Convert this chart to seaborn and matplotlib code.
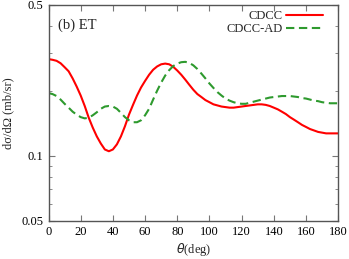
import numpy as np
import pandas as pd
import seaborn as sns
import matplotlib.pyplot as plt
import matplotlib.ticker as mticker

# Angles (deg), every 2.5 deg from 0 to 180
theta = list(np.arange(0, 180.1, 2.5))

# Cross sections (mb/sr)
cdcc = [0.280, 0.278, 0.275, 0.268, 0.257, 0.246, 0.228, 0.209, 0.190, 0.170,
        0.150, 0.135, 0.123, 0.114, 0.107, 0.105, 0.107, 0.113, 0.123, 0.137,
        0.155, 0.172, 0.190, 0.207, 0.222, 0.237, 0.250, 0.259, 0.265, 0.267,
        0.265, 0.258, 0.248, 0.237, 0.225, 0.213, 0.202, 0.193, 0.187, 0.181,
        0.177, 0.173, 0.171, 0.169, 0.168, 0.167, 0.167, 0.168, 0.169, 0.170,
        0.171, 0.172, 0.173, 0.173, 0.172, 0.170, 0.167, 0.164, 0.160, 0.156,
        0.151, 0.147, 0.143, 0.139, 0.136, 0.133, 0.131, 0.129, 0.128, 0.127,
        0.127, 0.127, 0.127]
cdcc_ad = [0.195, 0.193, 0.189, 0.182, 0.174, 0.167, 0.160, 0.155, 0.151, 0.149,
           0.150, 0.154, 0.159, 0.165, 0.169, 0.170, 0.169, 0.165, 0.158, 0.151,
           0.146, 0.143, 0.143, 0.146, 0.154, 0.165, 0.182, 0.200, 0.218, 0.235,
           0.249, 0.260, 0.267, 0.271, 0.272, 0.269, 0.262, 0.252, 0.240, 0.228,
           0.216, 0.206, 0.197, 0.190, 0.184, 0.180, 0.177, 0.175, 0.174, 0.174,
           0.176, 0.178, 0.180, 0.182, 0.184, 0.186, 0.187, 0.188, 0.189, 0.189,
           0.189, 0.188, 0.187, 0.185, 0.184, 0.182, 0.180, 0.179, 0.177, 0.176,
           0.175, 0.175, 0.175]
labels = ['CDCC', 'CDCC-AD']

df = pd.DataFrame({'theta': theta * 2,
                   'xs': cdcc + cdcc_ad,
                   'model': [labels[0]] * len(theta) + [labels[1]] * len(theta)})

sns.set_style('ticks')
plt.rcParams['font.family'] = ['Liberation Serif', 'DejaVu Serif']
plt.rcParams['mathtext.fontset'] = 'dejavusans'

fig = plt.figure(figsize=(3.49, 2.59), dpi=100)
ax = fig.add_axes([0.139, 0.147, 0.830, 0.835])

sns.lineplot(data=df, x='theta', y='xs', hue='model', style='model',
             palette={labels[0]: '#ff0000', labels[1]: '#2e9a2e'},
             dashes={labels[0]: '', labels[1]: (4, 2.2)},
             linewidth=1.5, ax=ax)

ax.set_yscale('log')
ax.set_xlim(0, 180)
ax.set_ylim(0.05, 0.5)
ax.set_xticks(range(0, 181, 20))
ax.yaxis.set_major_locator(mticker.FixedLocator([0.05, 0.1, 0.5]))
ax.yaxis.set_major_formatter(mticker.FixedFormatter(['0.05', '0.1', '0.5']))
ax.yaxis.set_minor_locator(mticker.FixedLocator([0.06, 0.07, 0.08, 0.09, 0.2, 0.3, 0.4]))
ax.yaxis.set_minor_formatter(mticker.NullFormatter())

for s in ax.spines.values():
    s.set_visible(True)
    s.set_color('#555555')
    s.set_linewidth(1.0)
ax.tick_params(which='both', direction='in', top=True, right=True,
               colors='#777777', labelcolor='black', labelsize=9)
ax.tick_params(which='major', length=4)
ax.tick_params(which='minor', length=2.5)

ax.set_xlabel(r'$\theta$(deg)', fontsize=9, labelpad=2.5)
ax.set_ylabel('dσ/dΩ (mb/sr)', fontsize=9, labelpad=5)

ax.text(0.033, 0.905, '(b) ET', transform=ax.transAxes, fontsize=10.5, va='center')

handles, lbls = ax.get_legend_handles_labels()
ax.legend(handles, lbls, loc='upper right', bbox_to_anchor=(0.948, 0.975),
          frameon=False, markerfirst=False, fontsize=9, handlelength=3.0,
          handletextpad=0.25, labelspacing=0.1, borderpad=0, borderaxespad=0)

fig.savefig('out.png', dpi=100)
